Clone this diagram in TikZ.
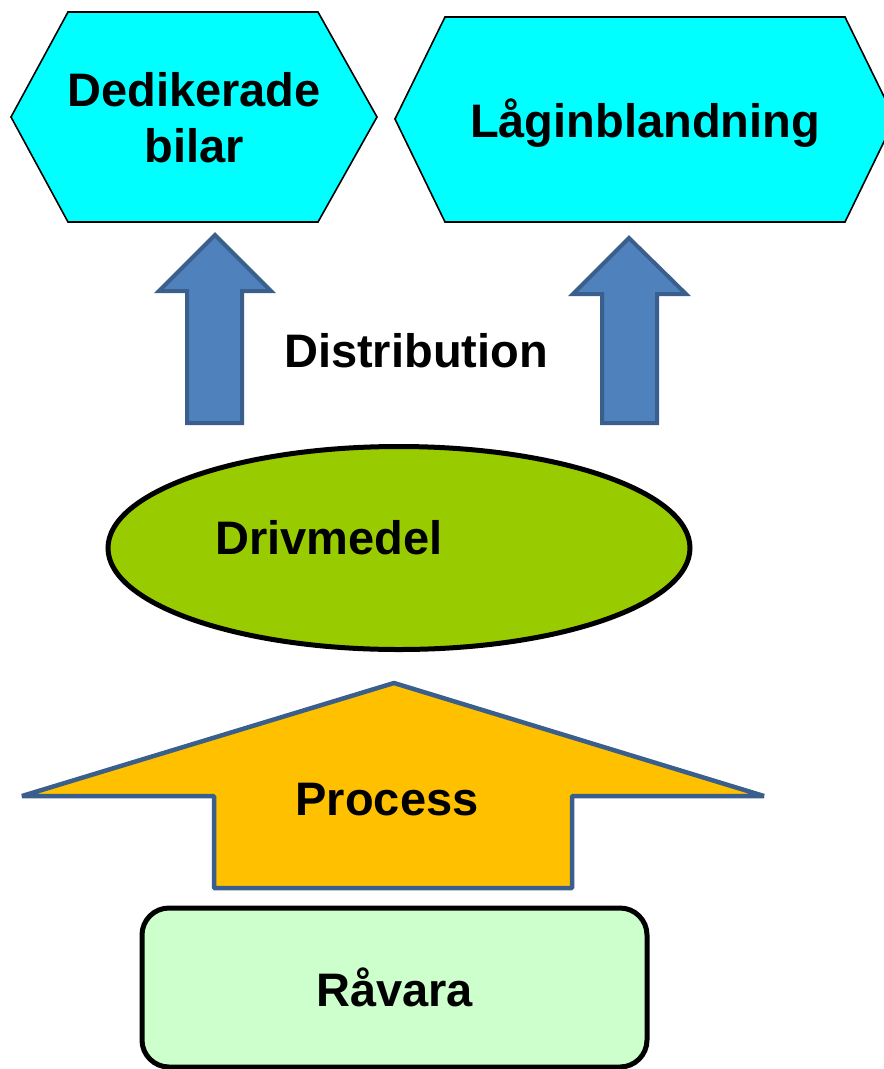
\documentclass[tikz,border=0pt]{standalone}
\usepackage{fontspec}
\setmainfont{Liberation Sans}
\usetikzlibrary{shapes.geometric}
\definecolor{hexCyan}{HTML}{00FFFF}
\definecolor{arrowBlue}{HTML}{4F81BD}
\definecolor{arrowEdge}{HTML}{3A5F8C}
\definecolor{processOrange}{HTML}{FFC000}
\definecolor{fuelGreen}{HTML}{99CC00}
\definecolor{rawGreen}{HTML}{CCFFCC}
\tikzstyle{labelStyle}=[inner sep = 0pt, font = \fontsize{47}{56}\selectfont\bfseries]
\tikzstyle{hexStyle}=[draw = black, line width = 1.6pt, fill = hexCyan]
\tikzstyle{blueArrow}=[draw = arrowEdge, line width = 4pt, fill = arrowBlue]

\begin{document}
\begin{tikzpicture}[x = 1pt, y = -1pt]
\tikzstyle{processArrow}=[draw = arrowEdge, line width = 4.5pt, fill = processOrange, line join = bevel]
\tikzstyle{fuelStyle}=[shape = ellipse, draw = black, line width = 5pt, fill = fuelGreen, minimum width = 582pt, minimum height = 203pt, inner sep = 0pt]
\tikzstyle{rawStyle}=[shape = rectangle, draw = black, line width = 5pt, fill = rawGreen, rounded corners = 27pt, minimum width = 505pt, minimum height = 159pt, inner sep = 0pt, font = \fontsize{47}{56}\selectfont\bfseries]
\useasboundingbox (0,0) rectangle (884,1069);
% hexagons
\draw[hexStyle] (68,12) -- (318,12) -- (377,117) -- (318,222) -- (68,222) -- (11,117) -- cycle;
\draw[hexStyle] (445,17) -- (845,17) -- (895,119) -- (845,222) -- (445,222) -- (395,119) -- cycle;
\node[labelStyle, align = center] (bilar) at (194,118) {Dedikerade\\bilar};
\node[labelStyle, anchor = base] (lagin) at (645,137) {Låginblandning};
% distribution arrows
\draw[blueArrow] (215,235) -- (271,291) -- (242,291) -- (242,423) -- (187,423) -- (187,291) -- (159,291) -- cycle;
\draw[blueArrow] (629,238) -- (686,294) -- (657,294) -- (657,423) -- (602,423) -- (602,294) -- (573,294) -- cycle;
\node[labelStyle, anchor = base] (distribution) at (416,367) {Distribution};
% fuel
\node[fuelStyle] (drivmedel) at (399,548) {};
\node[labelStyle, anchor = base] (drivtext) at (329,554) {Drivmedel};
% process arrow
\draw[processArrow] (394,683) -- (764,796) -- (572,796) -- (572,888) -- (214,888) -- (214,796) -- (22,796) -- cycle;
\node[labelStyle, anchor = base] (process) at (387,815) {Process};
% raw material
\node[rawStyle] (ravara) at (394.5,987.5) {Råvara};
\end{tikzpicture}
\end{document}
